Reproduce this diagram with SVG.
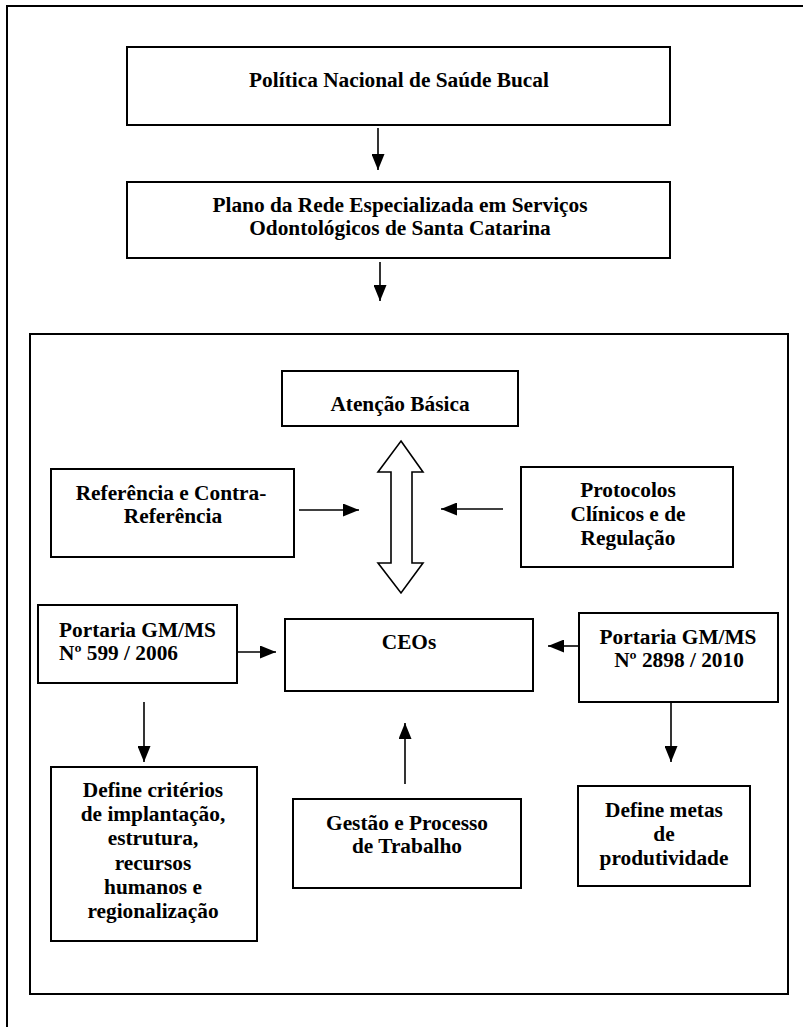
<svg xmlns="http://www.w3.org/2000/svg" width="803" height="1027" viewBox="0 0 803 1027">
<style>
.box{fill:#fff;stroke:#000;stroke-width:2}
.frame{fill:none;stroke:#000;stroke-width:2}
.t{font-family:"Liberation Serif","Times New Roman",serif;font-weight:bold;font-size:21.33px;fill:#000;text-anchor:middle}
.tl{text-anchor:start}
.c{stroke:#000;stroke-width:1.6;fill:none;marker-end:url(#ah)}
</style>
<defs>
<marker id="ah" markerUnits="userSpaceOnUse" markerWidth="16" markerHeight="13" refX="16" refY="6.5" orient="auto">
<path d="M0,0 L16,6.5 L0,13 z" fill="#000"/>
</marker>
</defs>
<rect width="803" height="1027" fill="#fff"/>
<rect class="frame" x="7" y="6" width="900" height="1100"/>
<rect class="frame" x="30" y="334" width="758" height="660"/>

<g id="politica">
<rect class="box" x="127" y="47" width="543" height="78"/>
<text class="t" x="399" y="87">Política Nacional de Saúde Bucal</text>
</g>
<g id="plano">
<rect class="box" x="127" y="182" width="543" height="76"/>
<text class="t" x="400" y="212">Plano da Rede Especializada em Serviços</text>
<text class="t" x="400" y="235">Odontológicos de Santa Catarina</text>
</g>
<g id="atencao">
<rect class="box" x="282" y="371" width="236" height="55"/>
<text class="t" x="400" y="411">Atenção Básica</text>
</g>
<g id="referencia">
<rect class="box" x="51" y="469" width="243" height="88"/>
<text class="t" x="171" y="500">Referência e Contra-</text>
<text class="t" x="173" y="523">Referência</text>
</g>
<g id="protocolos">
<rect class="box" x="521" y="467" width="212" height="100"/>
<text class="t" x="628" y="497">Protocolos</text>
<text class="t" x="628" y="521">Clínicos e de</text>
<text class="t" x="628" y="545">Regulação</text>
</g>
<g id="portaria599">
<rect class="box" x="38" y="605" width="199" height="78"/>
<text class="t tl" x="59" y="637">Portaria GM/MS</text>
<text class="t tl" x="59" y="660">Nº 599 / 2006</text>
</g>
<g id="ceos">
<rect class="box" x="285" y="619" width="248" height="72"/>
<text class="t" x="409" y="649">CEOs</text>
</g>
<g id="portaria2898">
<rect class="box" x="579" y="613" width="199" height="89"/>
<text class="t" x="678" y="644">Portaria GM/MS</text>
<text class="t" x="679" y="667">Nº 2898 / 2010</text>
</g>
<g id="define-criterios">
<rect class="box" x="51" y="767" width="206" height="174"/>
<text class="t" x="153" y="797">Define critérios</text>
<text class="t" x="153" y="821">de implantação,</text>
<text class="t" x="153" y="845">estrutura,</text>
<text class="t" x="153" y="870">recursos</text>
<text class="t" x="153" y="894">humanos e</text>
<text class="t" x="153" y="918">regionalização</text>
</g>
<g id="gestao">
<rect class="box" x="293" y="799" width="228" height="89"/>
<text class="t" x="407" y="830">Gestão e Processo</text>
<text class="t" x="407" y="853">de Trabalho</text>
</g>
<g id="define-metas">
<rect class="box" x="578" y="786" width="172" height="100"/>
<text class="t" x="664" y="817">Define metas</text>
<text class="t" x="664" y="841">de</text>
<text class="t" x="664" y="865">produtividade</text>
</g>

<g id="connectors">
<line class="c" x1="378" y1="128" x2="378" y2="170"/>
<line class="c" x1="380" y1="262" x2="380" y2="301"/>
<line class="c" x1="299" y1="510" x2="359" y2="510"/>
<line class="c" x1="503" y1="509" x2="441" y2="509"/>
<polygon points="401,441 423,472 412,472 412,563 423,563 401,593 378,563 391,563 391,472 378,472" fill="#fff" stroke="#000" stroke-width="1.6"/>
<line class="c" x1="237" y1="652" x2="276" y2="652"/>
<line class="c" x1="579" y1="646" x2="548" y2="646"/>
<line class="c" x1="144" y1="702" x2="144" y2="762"/>
<line class="c" x1="671" y1="702" x2="671" y2="762"/>
<line class="c" x1="405" y1="784" x2="405" y2="723"/>
</g>
</svg>
